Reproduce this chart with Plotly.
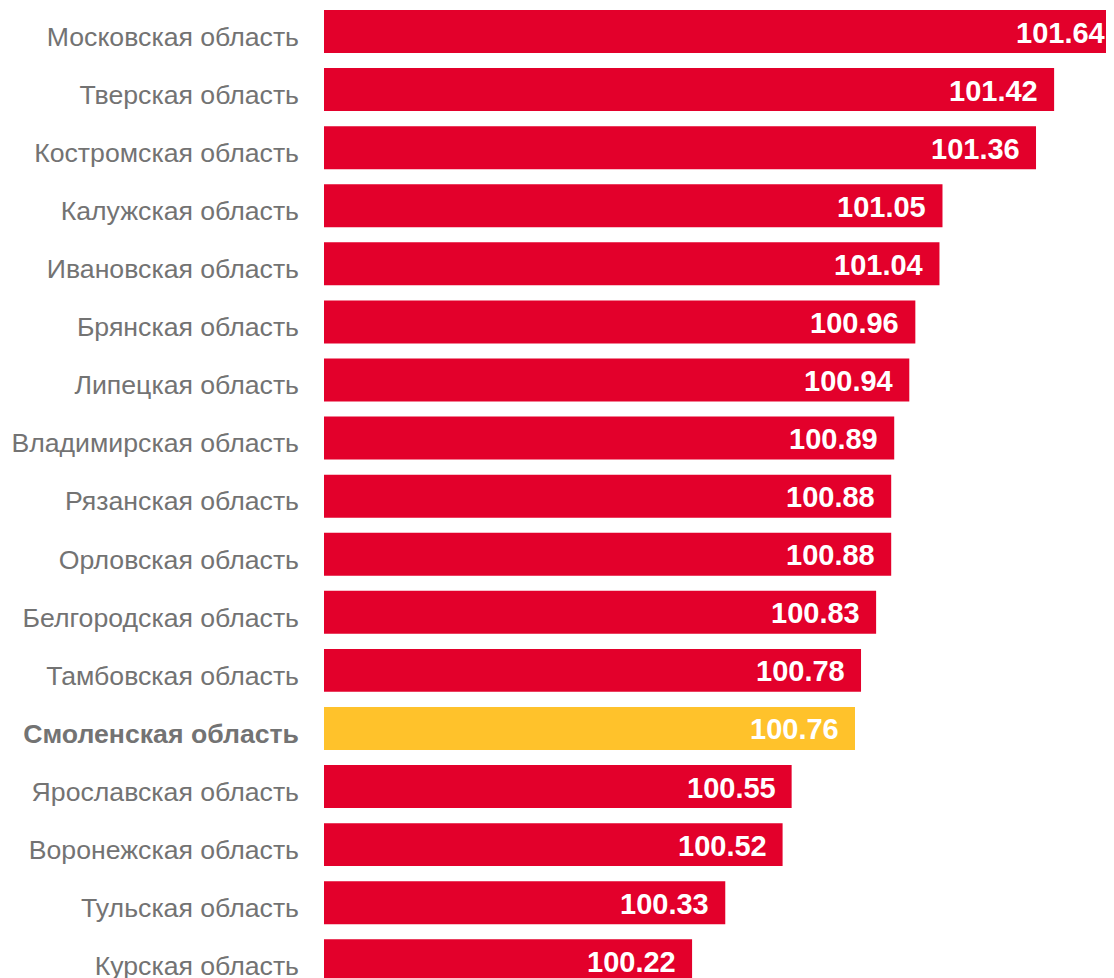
import plotly.graph_objects as go

regions = [
    "Московская область", "Тверская область", "Костромская область", "Калужская область",
    "Ивановская область", "Брянская область", "Липецкая область", "Владимирская область",
    "Рязанская область", "Орловская область", "Белгородская область", "Тамбовская область",
    "Смоленская область", "Ярославская область", "Воронежская область", "Тульская область",
    "Курская область",
]
values = [101.64, 101.42, 101.36, 101.05, 101.04, 100.96, 100.94, 100.89,
          100.88, 100.88, 100.83, 100.78, 100.76, 100.55, 100.52, 100.33, 100.22]
highlight = "Смоленская область"

AXIS_MIN = 99.0
AXIS_MAX = 101.6715
RED = "#E3002B"
YELLOW = "#FFC22B"
GRAY = "#737373"

colors = [YELLOW if r == highlight else RED for r in regions]
ticktext = [f"<b>{r}</b>" if r == highlight else r for r in regions]

fig = go.Figure(go.Bar(
    y=regions,
    x=[v - AXIS_MIN for v in values],
    base=AXIS_MIN,
    orientation="h",
    marker=dict(color=colors, line=dict(width=0)),
    width=0.74,
    cliponaxis=False,
    hoverinfo="skip",
))

for r, v in zip(regions, values):
    fig.add_annotation(
        x=v, y=r, xref="x", yref="y",
        text=f"{v:.2f}", showarrow=False,
        xanchor="right", yanchor="middle", xshift=-14, yshift=-1,
        font=dict(family="Arial, Liberation Sans", size=29, color="white", weight="bold"),
    )

fig.update_layout(
    width=1122, height=980,
    margin=dict(l=316, r=0, t=0, b=0),
    plot_bgcolor="white", paper_bgcolor="white",
    showlegend=False,
    xaxis=dict(range=[AXIS_MIN, AXIS_MAX], visible=False, showgrid=False, zeroline=False),
    yaxis=dict(
        range=[-0.4046 + 980 / 58.08, -0.4046],
        tickmode="array", tickvals=regions, ticktext=ticktext,
        showgrid=False, zeroline=False, showline=False, ticks="",
        ticklabelstandoff=24, ticklabelshift=-5,
        tickfont=dict(family="Arial, Liberation Sans", size=26.67, color=GRAY),
    ),
)

fig.write_html("out.html")
